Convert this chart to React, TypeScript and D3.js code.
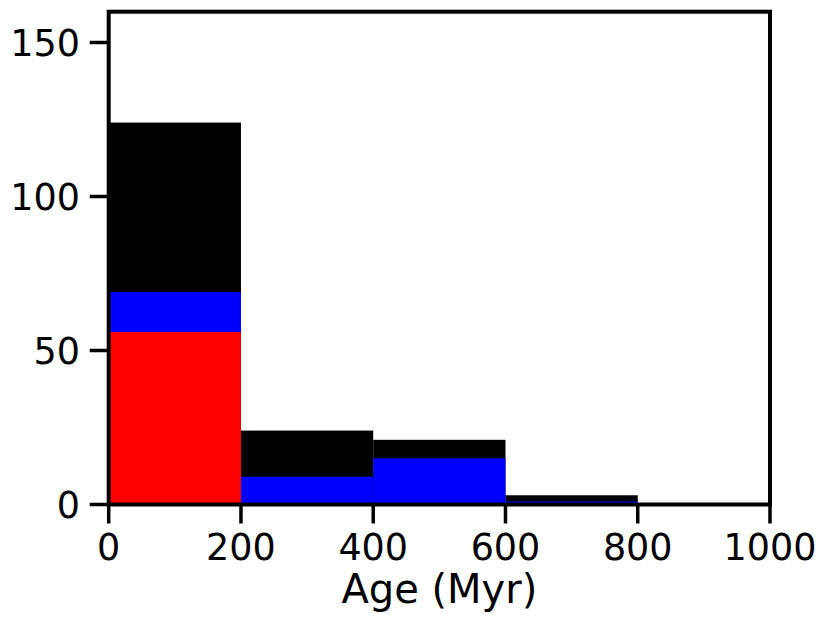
import { useRef, useEffect } from "react";
import * as d3 from "d3";

// histogram bin edges (Myr)
const binEdges = [0, 200, 400, 600, 800, 1000];
// counts per bin for each overlaid histogram
const allCounts = [124, 24, 21, 3, 0];
const blueCounts = [69, 9, 15, 1, 0];
const redCounts = [56, 0, 0, 0, 0];

const xTicks = [0, 200, 400, 600, 800, 1000];
const yTicks = [0, 50, 100, 150];

const SERIES = [
  { counts: allCounts, color: "#000000" },
  { counts: blueCounts, color: "#0000ff" },
  { counts: redCounts, color: "#ff0000" },
];

export default function App() {
  const svgRef = useRef<SVGSVGElement>(null);

  useEffect(() => {
    if (!svgRef.current) return;
    const width = 830;
    const height = 625;
    const m = { left: 108.7, right: 770, top: 11.7, bottom: 504.5 };

    const svg = d3.select(svgRef.current);
    svg.selectAll("*").remove();
    svg.attr("width", width).attr("height", height).attr("viewBox", `0 0 ${width} ${height}`);

    const x = d3.scaleLinear().domain([0, 1000]).range([m.left, m.right]);
    const y = d3.scaleLinear().domain([0, 160]).range([m.bottom, m.top]);

    svg.append("rect").attr("width", width).attr("height", height).attr("fill", "#fff");

    // overlaid histograms, drawn back to front
    SERIES.forEach((s, si) => {
      svg
        .append("g")
        .selectAll("rect")
        .data(s.counts.map((c, i) => ({ c, x0: binEdges[i], x1: binEdges[i + 1] })))
        .join("rect")
        .attr("class", `series-${si}`)
        .attr("x", (d) => x(d.x0))
        .attr("width", (d) => x(d.x1) - x(d.x0))
        .attr("y", (d) => y(d.c))
        .attr("height", (d) => y(0) - y(d.c))
        .attr("fill", s.color);
    });

    const font = "'DejaVu Sans', sans-serif";
    const tickLen = 17;
    const lw = 4;

    // spines
    svg
      .append("rect")
      .attr("x", m.left)
      .attr("y", m.top)
      .attr("width", m.right - m.left)
      .attr("height", m.bottom - m.top)
      .attr("fill", "none")
      .attr("stroke", "#000")
      .attr("stroke-width", lw);

    // x ticks
    const gx = svg.append("g");
    xTicks.forEach((t) => {
      gx.append("line")
        .attr("x1", x(t))
        .attr("x2", x(t))
        .attr("y1", m.bottom)
        .attr("y2", m.bottom + lw / 2 + tickLen)
        .attr("stroke", "#000")
        .attr("stroke-width", 3.5);
      gx.append("text")
        .attr("x", x(t))
        .attr("y", 559.5)
        .attr("text-anchor", "middle")
        .style("font-family", font)
        .style("font-size", "36.5px")
        .text(String(t));
    });

    // y ticks
    const gy = svg.append("g");
    yTicks.forEach((t) => {
      gy.append("line")
        .attr("x1", m.left)
        .attr("x2", m.left - lw / 2 - tickLen)
        .attr("y1", y(t))
        .attr("y2", y(t))
        .attr("stroke", "#000")
        .attr("stroke-width", 3.5);
      gy.append("text")
        .attr("x", 80)
        .attr("y", y(t) + 13.3)
        .attr("text-anchor", "end")
        .style("font-family", font)
        .style("font-size", "36.5px")
        .text(String(t));
    });

    svg
      .append("text")
      .attr("x", (m.left + m.right) / 2)
      .attr("y", 603.3)
      .attr("text-anchor", "middle")
      .style("font-family", font)
      .style("font-size", "40px")
      .text("Age (Myr)");
  }, []);

  return (
    <svg
      ref={svgRef}
      style={{ position: "absolute", left: 0, top: 0, display: "block" }}
    />
  );
}
